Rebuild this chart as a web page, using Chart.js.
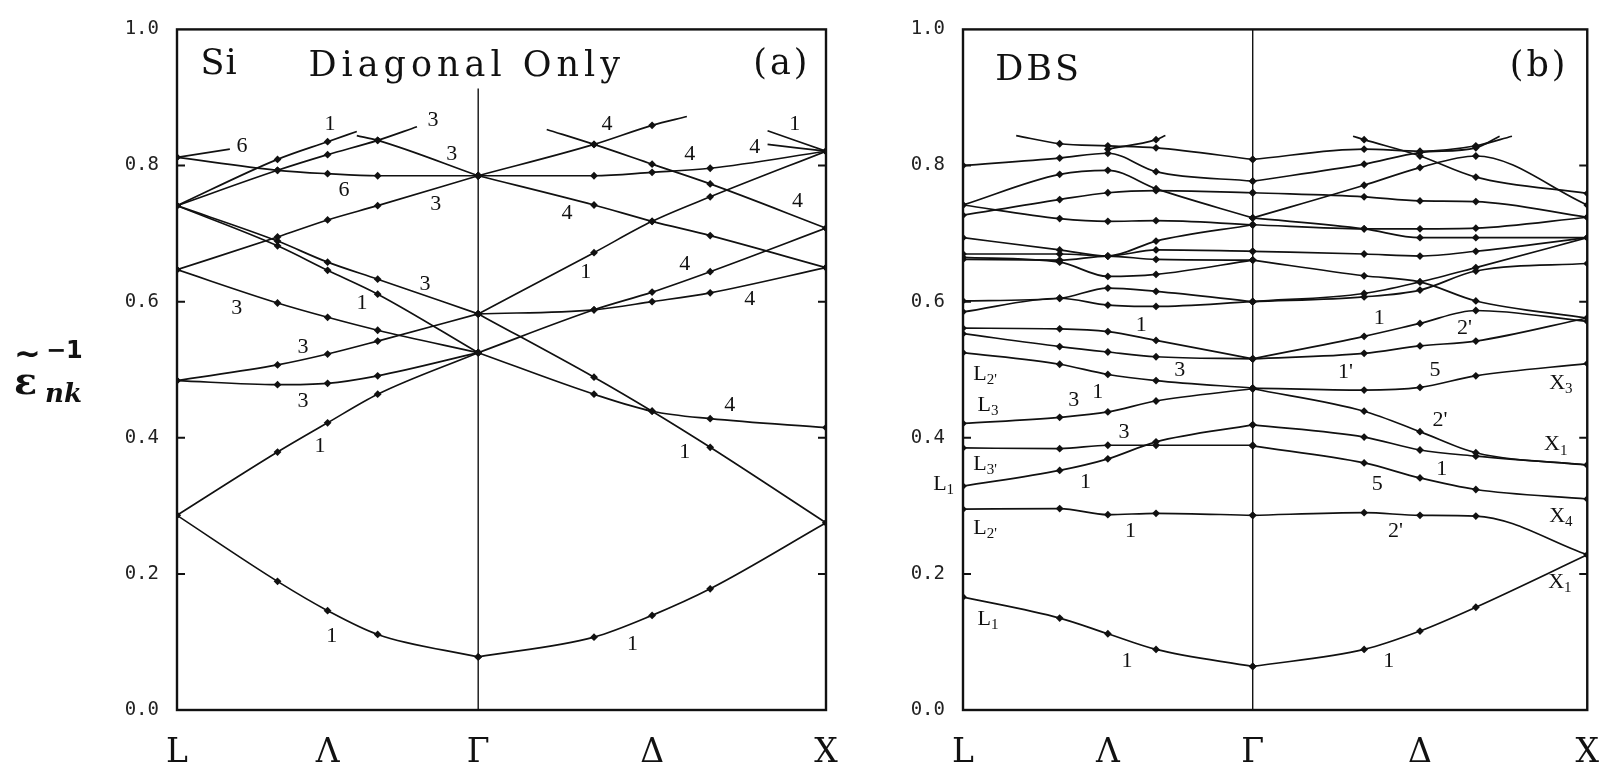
<!DOCTYPE html>
<html>
<head>
<meta charset="utf-8">
<script src="https://cdn.jsdelivr.net/npm/chart.js@4/dist/chart.umd.min.js"></script>
<style>
  html, body { margin: 0; padding: 0; background: #fff; }
  body { width: 1623px; height: 769px; position: relative; overflow: hidden; }
  #panel-a { position: absolute; left: 0; top: 0; }
  #panel-b { position: absolute; left: 880px; top: 0; }
</style>
</head>
<body>
<canvas id="panel-a" width="870" height="769"></canvas>
<canvas id="panel-b" width="743" height="769"></canvas>
<script>
// k-path: L -> Gamma is sqrt(3)/2 long, Gamma -> X is 1
const kLambda = [0, 0.289, 0.433, 0.577, 0.866];
const kDelta = [0.866, 1.199, 1.366, 1.533, 1.866];
const kTicks = [0, 0.433, 0.866, 1.366, 1.866];
const kTickLabels = ['L', 'Λ', 'Γ', 'Δ', 'X'];
const yTicks = [0, 0.2, 0.4, 0.6, 0.8, 1.0];

// (a) Si, diagonal only
const diagLambda = [
  [0.286, 0.189, 0.146, 0.111, 0.078],
  [0.286, 0.379, 0.422, 0.464, 0.525],
  [0.484, 0.507, 0.523, 0.542, 0.582],
  [0.484, 0.478, 0.480, 0.491, 0.525],
  [0.647, 0.598, 0.577, 0.558, 0.525],
  [0.647, 0.695, 0.720, 0.741, 0.785],
  [0.741, 0.682, 0.646, 0.611, 0.525],
  [0.741, 0.689, 0.658, 0.633, 0.582],
  [0.812, 0.793, 0.788, 0.785, 0.785],
];
const diagDelta = [
  [0.785, 0.785, 0.790, 0.796, 0.821],
  [0.785, 0.742, 0.718, 0.697, 0.650],
  [0.582, 0.672, 0.718, 0.754, 0.821],
  [0.582, 0.588, 0.600, 0.613, 0.650],
  [0.525, 0.588, 0.614, 0.644, 0.708],
  [0.582, 0.489, 0.439, 0.386, 0.275],
  [0.525, 0.464, 0.439, 0.428, 0.415],
  [0.078, 0.107, 0.139, 0.178, 0.275],
];
// bands that run out of the frame of the figure
const diagStubs = [
  [[0, 0.812], [0.152, 0.824]],
  [[0, 0.741], [0.289, 0.809], [0.433, 0.835], [0.517, 0.850]],
  [[0, 0.741], [0.289, 0.793], [0.433, 0.816], [0.577, 0.837], [0.690, 0.857]],
  [[0.517, 0.844], [0.577, 0.837], [0.866, 0.785]],
  [[0.866, 0.785], [1.199, 0.831], [1.366, 0.859], [1.466, 0.872]],
  [[1.063, 0.853], [1.199, 0.831], [1.366, 0.802], [1.533, 0.773], [1.866, 0.708]],
  [[1.698, 0.851], [1.866, 0.821]],
  [[1.698, 0.831], [1.866, 0.821]],
];
const diagNotes = [
  [0.187, 0.828, '6'], [0.440, 0.860, '1'], [0.736, 0.867, '3'], [0.790, 0.816, '3'],
  [0.480, 0.764, '6'], [0.744, 0.743, '3'], [0.172, 0.591, '3'], [0.532, 0.597, '1'],
  [0.713, 0.626, '3'], [0.362, 0.533, '3'], [0.362, 0.454, '3'], [0.411, 0.387, '1'],
  [0.445, 0.108, '1'], [1.236, 0.860, '4'], [1.474, 0.816, '4'], [1.661, 0.827, '4'],
  [1.776, 0.860, '1'], [1.121, 0.730, '4'], [1.784, 0.747, '4'], [1.175, 0.643, '1'],
  [1.460, 0.655, '4'], [1.647, 0.603, '4'], [1.589, 0.448, '4'], [1.460, 0.379, '1'],
  [1.310, 0.097, '1'],
];

// (b) DBS
const dbsLambda = [
  [0.800, 0.811, 0.818, 0.791, 0.777],
  [0.742, 0.787, 0.793, 0.766, 0.723],
  [0.727, 0.750, 0.760, 0.763, 0.760],
  [0.742, 0.722, 0.718, 0.719, 0.713],
  [0.694, 0.676, 0.667, 0.689, 0.713],
  [0.670, 0.670, 0.667, 0.676, 0.674],
  [0.665, 0.658, 0.637, 0.640, 0.661],
  [0.662, 0.661, 0.667, 0.662, 0.661],
  [0.601, 0.605, 0.620, 0.615, 0.600],
  [0.585, 0.605, 0.595, 0.593, 0.600],
  [0.561, 0.560, 0.556, 0.543, 0.516],
  [0.553, 0.534, 0.526, 0.519, 0.516],
  [0.525, 0.508, 0.493, 0.484, 0.473],
  [0.421, 0.430, 0.438, 0.454, 0.472],
  [0.385, 0.384, 0.389, 0.389, 0.389],
  [0.329, 0.352, 0.369, 0.394, 0.419],
  [0.295, 0.296, 0.287, 0.289, 0.286],
  [0.166, 0.135, 0.112, 0.089, 0.064],
];
const dbsDelta = [
  [0.723, 0.771, 0.797, 0.814, 0.742],
  [0.760, 0.754, 0.748, 0.747, 0.724],
  [0.713, 0.707, 0.707, 0.708, 0.724],
  [0.723, 0.707, 0.694, 0.694, 0.694],
  [0.674, 0.670, 0.667, 0.674, 0.694],
  [0.661, 0.638, 0.629, 0.601, 0.576],
  [0.600, 0.612, 0.629, 0.650, 0.694],
  [0.600, 0.607, 0.617, 0.645, 0.656],
  [0.516, 0.549, 0.568, 0.587, 0.571],
  [0.516, 0.524, 0.535, 0.542, 0.576],
  [0.473, 0.470, 0.474, 0.491, 0.509],
  [0.472, 0.439, 0.409, 0.378, 0.360],
  [0.419, 0.401, 0.382, 0.373, 0.360],
  [0.388, 0.363, 0.341, 0.324, 0.310],
  [0.286, 0.290, 0.286, 0.285, 0.228],
  [0.064, 0.089, 0.116, 0.151, 0.228],
];
const dbsStubs = [
  [[0.159, 0.844], [0.289, 0.832], [0.433, 0.829], [0.577, 0.826], [0.866, 0.809]],
  [[0.433, 0.824], [0.577, 0.838], [0.605, 0.844]],
  [[0.866, 0.809], [1.199, 0.824], [1.366, 0.821], [1.533, 0.829], [1.641, 0.843]],
  [[1.166, 0.843], [1.199, 0.838], [1.366, 0.814], [1.533, 0.783], [1.866, 0.759]],
  [[0.866, 0.777], [1.199, 0.802], [1.366, 0.819], [1.533, 0.826], [1.604, 0.843]],
];
const dbsNotes = [
  [0.533, 0.566, '1'], [0.648, 0.499, '3'], [0.066, 0.494, 'L', "2'"], [0.403, 0.467, '1'],
  [0.331, 0.455, '3'], [0.075, 0.448, 'L', '3'], [0.481, 0.408, '3'], [0.066, 0.361, 'L', "3'"],
  [-0.058, 0.332, 'L', '1'], [0.366, 0.335, '1'], [0.066, 0.267, 'L', "2'"], [0.501, 0.263, '1'],
  [0.075, 0.134, 'L', '1'], [0.490, 0.072, '1'], [1.244, 0.575, '1'], [1.499, 0.561, "2'"],
  [1.143, 0.496, "1'"], [1.411, 0.499, '5'], [1.787, 0.480, 'X', '3'], [1.426, 0.426, "2'"],
  [1.772, 0.390, 'X', '1'], [1.431, 0.354, '1'], [1.238, 0.332, '5'], [1.787, 0.285, 'X', '4'],
  [1.293, 0.263, "2'"], [1.784, 0.188, 'X', '1'], [1.273, 0.072, '1'],
];

const samplePositions = [...kLambda, ...kDelta];

function buildDatasets(lambdaBands, deltaBands, stubs) {
  const sets = [];
  lambdaBands.forEach((b) => sets.push({ data: kLambda.map((x, i) => ({ x, y: b[i] })) }));
  deltaBands.forEach((b) => sets.push({ data: kDelta.map((x, i) => ({ x, y: b[i] })) }));
  stubs.forEach((s) => sets.push({
    data: s.map(([x, y]) => ({ x, y })),
    pointRadius: s.map(([x]) => (samplePositions.some((p) => Math.abs(p - x) < 0.004) ? 3.9 : 0)),
  }));
  return sets;
}

function drawNote(ctx, px, py, main, sub) {
  ctx.font = '22px "Liberation Serif"';
  const w1 = ctx.measureText(main).width;
  let w2 = 0;
  if (sub) {
    ctx.font = '15px "Liberation Serif"';
    w2 = ctx.measureText(sub).width;
  }
  const x0 = px - (w1 + w2) / 2;
  ctx.font = '22px "Liberation Serif"';
  ctx.textAlign = 'left';
  ctx.textBaseline = 'middle';
  ctx.fillText(main, x0, py);
  if (sub) {
    ctx.font = '15px "Liberation Serif"';
    ctx.fillText(sub, x0 + w1, py + 6);
  }
}

const panelDecor = {
  id: 'panelDecor',
  beforeDatasetsDraw(chart, args, opts) {
    const { ctx, chartArea: a, scales: { x, y } } = chart;
    ctx.save();
    ctx.strokeStyle = '#111';
    ctx.lineWidth = 1.4;
    const gx = x.getPixelForValue(0.866);
    ctx.beginPath();
    ctx.moveTo(gx, a.bottom);
    ctx.lineTo(gx, y.getPixelForValue(opts.gammaTop));
    ctx.stroke();
    ctx.restore();
  },
  afterDraw(chart, args, opts) {
    const { ctx, chartArea: a, scales: { x, y } } = chart;
    ctx.save();
    ctx.strokeStyle = '#111';
    ctx.fillStyle = '#111';
    ctx.lineWidth = 2.4;
    ctx.strokeRect(a.left, a.top, a.right - a.left, a.bottom - a.top);
    ctx.lineWidth = 2;
    [0.2, 0.4, 0.6, 0.8].forEach((v) => {
      const py = y.getPixelForValue(v);
      ctx.beginPath();
      ctx.moveTo(a.left, py); ctx.lineTo(a.left + 8, py);
      ctx.moveTo(a.right, py); ctx.lineTo(a.right - 8, py);
      ctx.stroke();
    });

    opts.notes.forEach(([nx, ny, main, sub]) => drawNote(ctx, x.getPixelForValue(nx), y.getPixelForValue(ny), main, sub));

    ctx.font = '35px "DejaVu Serif"';
    ctx.textBaseline = 'alphabetic';
    ctx.textAlign = 'center';
    opts.titles.forEach(([tx, ty, text, spacing]) => {
      ctx.letterSpacing = spacing + 'px';
      ctx.fillText(text, x.getPixelForValue(tx), y.getPixelForValue(ty));
    });
    ctx.letterSpacing = '0px';

    if (opts.axisTitle) {
      ctx.textAlign = 'left';
      ctx.font = 'bold 38px "DejaVu Serif"';
      ctx.fillText('ε', 14, 394);
      ctx.font = 'bold 32px "DejaVu Sans"';
      ctx.fillText('~', 14, 364);
      ctx.font = 'bold 24px "DejaVu Sans"';
      ctx.fillText('−1', 46, 358);
      ctx.font = 'bold italic 26px "DejaVu Serif"';
      ctx.fillText('nk', 45, 402);
    }
    ctx.restore();
  },
};

function makePanel(canvasId, datasets, cfg) {
  return new Chart(document.getElementById(canvasId), {
    type: 'line',
    data: { datasets },
    options: {
      responsive: false,
      animation: false,
      layout: { padding: { top: 18, right: cfg.padRight, bottom: 0, left: 0 } },
      elements: {
        line: { borderColor: '#111', borderWidth: 1.7, cubicInterpolationMode: 'monotone', fill: false },
        point: { pointStyle: 'rectRot', radius: 3.9, backgroundColor: '#111', borderWidth: 0 },
      },
      plugins: {
        legend: { display: false },
        tooltip: { enabled: false },
        panelDecor: { notes: cfg.notes, titles: cfg.titles, gammaTop: cfg.gammaTop, axisTitle: cfg.axisTitle },
      },
      scales: {
        x: {
          type: 'linear', min: 0, max: 1.866,
          grid: { display: false, drawTicks: false }, border: { display: false },
          afterBuildTicks: (s) => { s.ticks = kTicks.map((v) => ({ value: v })); },
          ticks: {
            autoSkip: false, maxRotation: 0, padding: 24, color: '#111',
            font: { family: 'DejaVu Serif', size: 33 },
            callback: (v) => kTickLabels[kTicks.indexOf(v)],
          },
          afterFit: (s) => { s.height = 59; },
        },
        y: {
          type: 'linear', min: 0, max: 1,
          grid: { display: false, drawTicks: false }, border: { display: false },
          afterBuildTicks: (s) => { s.ticks = yTicks.map((v) => ({ value: v })); },
          ticks: {
            padding: 18, color: '#222',
            font: { family: 'DejaVu Sans Mono', size: 19 },
            callback: (v) => v.toFixed(1),
          },
          afterFit: (s) => { s.width = cfg.axisWidth; },
        },
      },
    },
    plugins: [panelDecor],
  });
}

makePanel('panel-a', buildDatasets(diagLambda, diagDelta, diagStubs), {
  padRight: 44, axisWidth: 177, gammaTop: 0.913, axisTitle: true, notes: diagNotes,
  titles: [[0.121, 0.935, 'Si', 1], [0.833, 0.932, 'Diagonal Only', 5], [1.739, 0.935, '(a)', 3]],
});
makePanel('panel-b', buildDatasets(dbsLambda, dbsDelta, dbsStubs), {
  padRight: 13, axisWidth: 83, gammaTop: 1, axisTitle: false, notes: dbsNotes,
  titles: [[0.226, 0.925, 'DBS', 3], [1.722, 0.932, '(b)', 3]],
});
</script>
</body>
</html>
